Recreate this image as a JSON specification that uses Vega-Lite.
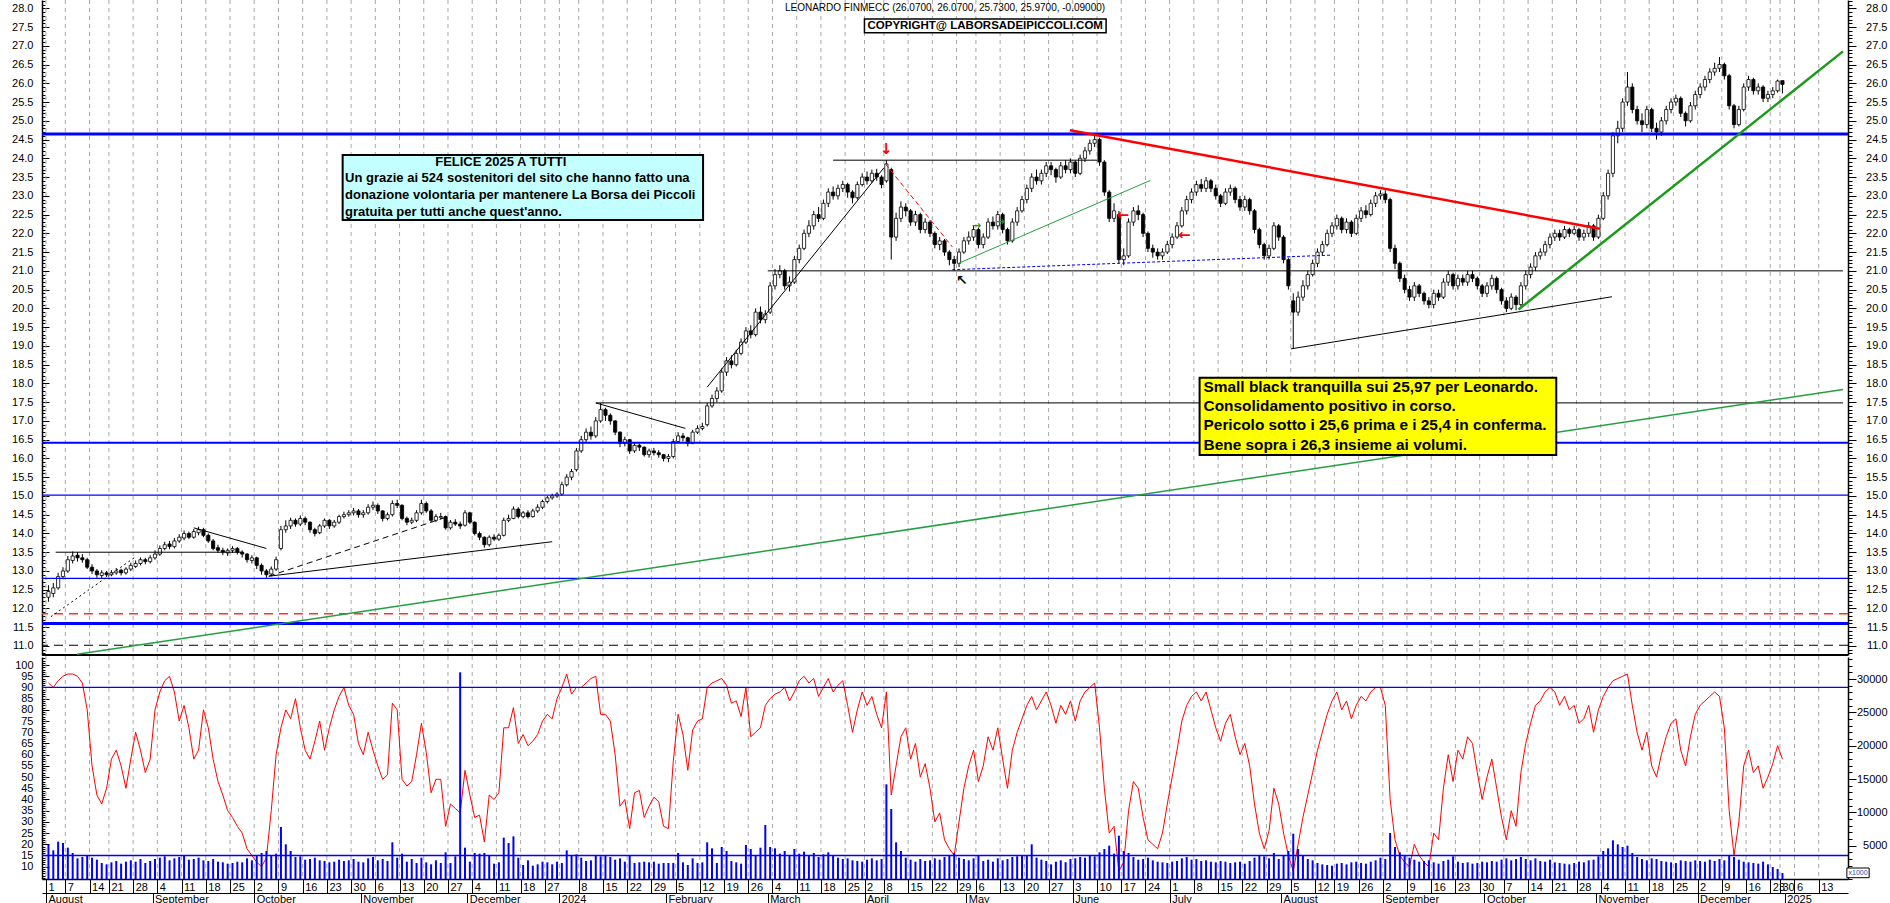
{
"$schema": "https://vega.github.io/schema/vega-lite/v6.json",
"width": 1806, "height": 879,
"autosize": {"type": "none"},
"padding": {"left": 42, "top": 0, "right": 42, "bottom": 24},
"background": "white",
"config": {"view": {"stroke": null}, "axis": {"labelFont": "Liberation Sans", "labelFontSize": 11, "labelColor": "#000", "tickColor": "#000", "domainColor": "#000", "grid": false, "labelOverlap": false, "labelFlush": false, "labelBound": false}, "text": {"font": "Liberation Sans"}},
"datasets": {"px": [
{"i":0,"o":12.30,"h":12.62,"l":12.18,"c":12.45,"k":92,"v":5200},
{"i":1,"o":12.40,"h":12.68,"l":12.30,"c":12.55,"k":90,"v":4300},
{"i":2,"o":12.55,"h":12.95,"l":12.50,"c":12.85,"k":93,"v":5600},
{"i":3,"o":12.85,"h":13.10,"l":12.78,"c":13.00,"k":95,"v":5400},
{"i":4,"o":13.00,"h":13.40,"l":12.95,"c":13.30,"k":96,"v":4700},
{"i":5,"o":13.28,"h":13.52,"l":13.20,"c":13.40,"k":96,"v":3900},
{"i":6,"o":13.42,"h":13.50,"l":13.25,"c":13.35,"k":95,"v":3100},
{"i":7,"o":13.35,"h":13.45,"l":13.22,"c":13.30,"k":92,"v":3300},
{"i":8,"o":13.30,"h":13.35,"l":13.05,"c":13.10,"k":80,"v":3600},
{"i":9,"o":13.10,"h":13.18,"l":12.92,"c":13.00,"k":55,"v":3200},
{"i":10,"o":13.00,"h":13.05,"l":12.82,"c":12.90,"k":42,"v":2900},
{"i":11,"o":12.88,"h":13.02,"l":12.80,"c":12.95,"k":38,"v":2400},
{"i":12,"o":12.95,"h":13.00,"l":12.84,"c":12.90,"k":45,"v":2200},
{"i":13,"o":12.90,"h":13.02,"l":12.86,"c":12.95,"k":58,"v":2500},
{"i":14,"o":12.95,"h":13.08,"l":12.90,"c":13.00,"k":62,"v":2700},
{"i":15,"o":13.02,"h":13.06,"l":12.88,"c":12.95,"k":55,"v":2300},
{"i":16,"o":12.95,"h":13.10,"l":12.90,"c":13.05,"k":45,"v":2600},
{"i":17,"o":13.05,"h":13.22,"l":13.00,"c":13.15,"k":58,"v":2800},
{"i":18,"o":13.12,"h":13.28,"l":13.08,"c":13.20,"k":70,"v":2600},
{"i":19,"o":13.20,"h":13.36,"l":13.15,"c":13.30,"k":62,"v":3000},
{"i":20,"o":13.30,"h":13.35,"l":13.18,"c":13.25,"k":52,"v":2400},
{"i":21,"o":13.25,"h":13.42,"l":13.20,"c":13.35,"k":58,"v":2700},
{"i":22,"o":13.35,"h":13.55,"l":13.30,"c":13.45,"k":80,"v":3000},
{"i":23,"o":13.45,"h":13.68,"l":13.40,"c":13.60,"k":88,"v":3200},
{"i":24,"o":13.60,"h":13.78,"l":13.55,"c":13.70,"k":93,"v":3400},
{"i":25,"o":13.72,"h":13.80,"l":13.58,"c":13.65,"k":95,"v":2800},
{"i":26,"o":13.65,"h":13.88,"l":13.60,"c":13.80,"k":88,"v":3100},
{"i":27,"o":13.80,"h":13.98,"l":13.75,"c":13.90,"k":75,"v":3300},
{"i":28,"o":13.88,"h":14.08,"l":13.82,"c":14.00,"k":82,"v":3500},
{"i":29,"o":14.00,"h":14.05,"l":13.85,"c":13.90,"k":72,"v":2900},
{"i":30,"o":13.90,"h":14.12,"l":13.86,"c":14.05,"k":58,"v":3000},
{"i":31,"o":14.02,"h":14.18,"l":13.95,"c":14.10,"k":62,"v":3200},
{"i":32,"o":14.10,"h":14.15,"l":13.90,"c":13.95,"k":80,"v":2800},
{"i":33,"o":13.95,"h":14.00,"l":13.75,"c":13.80,"k":72,"v":2700},
{"i":34,"o":13.80,"h":13.85,"l":13.55,"c":13.60,"k":58,"v":3000},
{"i":35,"o":13.62,"h":13.70,"l":13.48,"c":13.55,"k":48,"v":2600},
{"i":36,"o":13.55,"h":13.62,"l":13.42,"c":13.50,"k":42,"v":2500},
{"i":37,"o":13.48,"h":13.60,"l":13.40,"c":13.55,"k":35,"v":2300},
{"i":38,"o":13.55,"h":13.66,"l":13.48,"c":13.60,"k":32,"v":2400},
{"i":39,"o":13.60,"h":13.64,"l":13.44,"c":13.50,"k":28,"v":2600},
{"i":40,"o":13.50,"h":13.55,"l":13.36,"c":13.45,"k":25,"v":2500},
{"i":41,"o":13.45,"h":13.48,"l":13.22,"c":13.30,"k":18,"v":3100},
{"i":42,"o":13.28,"h":13.42,"l":13.20,"c":13.35,"k":15,"v":2800},
{"i":43,"o":13.35,"h":13.38,"l":13.05,"c":13.15,"k":12,"v":3600},
{"i":44,"o":13.15,"h":13.20,"l":12.90,"c":13.00,"k":10,"v":3900},
{"i":45,"o":13.00,"h":13.05,"l":12.82,"c":12.90,"k":14,"v":4200},
{"i":46,"o":12.92,"h":13.12,"l":12.86,"c":13.05,"k":35,"v":3500},
{"i":47,"o":13.05,"h":13.38,"l":13.00,"c":13.30,"k":60,"v":3800},
{"i":48,"o":13.60,"h":14.20,"l":13.55,"c":14.10,"k":72,"v":7800},
{"i":49,"o":14.10,"h":14.35,"l":14.02,"c":14.20,"k":80,"v":5200},
{"i":50,"o":14.20,"h":14.42,"l":14.12,"c":14.35,"k":76,"v":4200},
{"i":51,"o":14.35,"h":14.40,"l":14.18,"c":14.25,"k":85,"v":3300},
{"i":52,"o":14.25,"h":14.48,"l":14.20,"c":14.40,"k":72,"v":3400},
{"i":53,"o":14.40,"h":14.45,"l":14.22,"c":14.30,"k":62,"v":2900},
{"i":54,"o":14.30,"h":14.32,"l":14.02,"c":14.10,"k":58,"v":3000},
{"i":55,"o":14.10,"h":14.15,"l":13.92,"c":14.00,"k":66,"v":3200},
{"i":56,"o":14.02,"h":14.25,"l":13.98,"c":14.20,"k":75,"v":2800},
{"i":57,"o":14.20,"h":14.40,"l":14.15,"c":14.35,"k":62,"v":2700},
{"i":58,"o":14.35,"h":14.38,"l":14.12,"c":14.20,"k":72,"v":2500},
{"i":59,"o":14.20,"h":14.36,"l":14.15,"c":14.30,"k":80,"v":2600},
{"i":60,"o":14.30,"h":14.50,"l":14.25,"c":14.45,"k":86,"v":2900},
{"i":61,"o":14.45,"h":14.58,"l":14.40,"c":14.50,"k":90,"v":2700},
{"i":62,"o":14.50,"h":14.62,"l":14.45,"c":14.55,"k":82,"v":2800},
{"i":63,"o":14.55,"h":14.68,"l":14.48,"c":14.60,"k":78,"v":3000},
{"i":64,"o":14.60,"h":14.65,"l":14.42,"c":14.50,"k":65,"v":2600},
{"i":65,"o":14.50,"h":14.62,"l":14.42,"c":14.55,"k":60,"v":2500},
{"i":66,"o":14.55,"h":14.78,"l":14.50,"c":14.70,"k":70,"v":3100},
{"i":67,"o":14.70,"h":14.85,"l":14.62,"c":14.75,"k":62,"v":3300},
{"i":68,"o":14.75,"h":14.80,"l":14.52,"c":14.60,"k":55,"v":2800},
{"i":69,"o":14.60,"h":14.62,"l":14.32,"c":14.40,"k":49,"v":3000},
{"i":70,"o":14.40,"h":14.56,"l":14.35,"c":14.50,"k":51,"v":2700},
{"i":71,"o":14.50,"h":14.88,"l":14.45,"c":14.80,"k":83,"v":5500},
{"i":72,"o":14.80,"h":14.90,"l":14.68,"c":14.75,"k":80,"v":3200},
{"i":73,"o":14.75,"h":14.78,"l":14.35,"c":14.40,"k":49,"v":3800},
{"i":74,"o":14.40,"h":14.45,"l":14.22,"c":14.30,"k":46,"v":2600},
{"i":75,"o":14.30,"h":14.42,"l":14.25,"c":14.35,"k":48,"v":3000},
{"i":76,"o":14.35,"h":14.62,"l":14.30,"c":14.55,"k":60,"v":2400},
{"i":77,"o":14.55,"h":14.90,"l":14.50,"c":14.80,"k":74,"v":3200},
{"i":78,"o":14.80,"h":14.85,"l":14.55,"c":14.60,"k":61,"v":2500},
{"i":79,"o":14.60,"h":14.65,"l":14.30,"c":14.35,"k":43,"v":2200},
{"i":80,"o":14.35,"h":14.52,"l":14.30,"c":14.45,"k":49,"v":2800},
{"i":81,"o":14.42,"h":14.55,"l":14.38,"c":14.45,"k":49,"v":2400},
{"i":82,"o":14.45,"h":14.48,"l":14.10,"c":14.15,"k":28,"v":4000},
{"i":83,"o":14.15,"h":14.36,"l":14.10,"c":14.30,"k":38,"v":2400},
{"i":84,"o":14.30,"h":14.38,"l":14.20,"c":14.25,"k":36,"v":3400},
{"i":85,"o":14.25,"h":14.32,"l":14.12,"c":14.20,"k":34,"v":31000},
{"i":86,"o":14.22,"h":14.62,"l":14.18,"c":14.55,"k":53,"v":4700},
{"i":87,"o":14.55,"h":14.58,"l":14.25,"c":14.30,"k":42,"v":2600},
{"i":88,"o":14.30,"h":14.32,"l":13.95,"c":14.00,"k":32,"v":3900},
{"i":89,"o":14.00,"h":14.05,"l":13.82,"c":13.90,"k":33,"v":3800},
{"i":90,"o":13.90,"h":13.92,"l":13.62,"c":13.70,"k":21,"v":3900},
{"i":91,"o":13.70,"h":13.95,"l":13.65,"c":13.90,"k":42,"v":3500},
{"i":92,"o":13.90,"h":13.98,"l":13.80,"c":13.85,"k":40,"v":2300},
{"i":93,"o":13.85,"h":14.00,"l":13.80,"c":13.95,"k":43,"v":2500},
{"i":94,"o":13.95,"h":14.42,"l":13.92,"c":14.35,"k":72,"v":6200},
{"i":95,"o":14.35,"h":14.50,"l":14.30,"c":14.40,"k":72,"v":5400},
{"i":96,"o":14.40,"h":14.72,"l":14.38,"c":14.65,"k":81,"v":6400},
{"i":97,"o":14.65,"h":14.70,"l":14.40,"c":14.45,"k":65,"v":3200},
{"i":98,"o":14.45,"h":14.60,"l":14.40,"c":14.55,"k":69,"v":2100},
{"i":99,"o":14.55,"h":14.62,"l":14.40,"c":14.45,"k":64,"v":2800},
{"i":100,"o":14.45,"h":14.66,"l":14.42,"c":14.60,"k":66,"v":2000},
{"i":101,"o":14.60,"h":14.78,"l":14.55,"c":14.70,"k":69,"v":2200},
{"i":102,"o":14.70,"h":14.90,"l":14.65,"c":14.85,"k":75,"v":2600},
{"i":103,"o":14.85,"h":15.00,"l":14.80,"c":14.95,"k":78,"v":2500},
{"i":104,"o":14.95,"h":15.06,"l":14.90,"c":15.00,"k":76,"v":2200},
{"i":105,"o":15.00,"h":15.10,"l":14.95,"c":15.05,"k":85,"v":2600},
{"i":106,"o":15.05,"h":15.38,"l":15.00,"c":15.30,"k":90,"v":2400},
{"i":107,"o":15.30,"h":15.58,"l":15.25,"c":15.50,"k":96,"v":4300},
{"i":108,"o":15.50,"h":15.72,"l":15.42,"c":15.65,"k":87,"v":3500},
{"i":109,"o":15.70,"h":16.28,"l":15.65,"c":16.20,"k":90,"v":3700},
{"i":110,"o":16.20,"h":16.60,"l":16.15,"c":16.50,"k":90,"v":3200},
{"i":111,"o":16.50,"h":16.80,"l":16.40,"c":16.70,"k":92,"v":2700},
{"i":112,"o":16.70,"h":16.85,"l":16.50,"c":16.60,"k":94,"v":2800},
{"i":113,"o":16.60,"h":17.10,"l":16.55,"c":17.00,"k":95,"v":3500},
{"i":114,"o":17.00,"h":17.48,"l":16.95,"c":17.30,"k":78,"v":3400},
{"i":115,"o":17.30,"h":17.35,"l":17.00,"c":17.15,"k":78,"v":3600},
{"i":116,"o":17.15,"h":17.20,"l":16.90,"c":17.00,"k":75,"v":3300},
{"i":117,"o":17.00,"h":17.02,"l":16.62,"c":16.70,"k":60,"v":2900},
{"i":118,"o":16.70,"h":16.72,"l":16.30,"c":16.40,"k":37,"v":3100},
{"i":119,"o":16.40,"h":16.58,"l":16.32,"c":16.50,"k":40,"v":2600},
{"i":120,"o":16.50,"h":16.52,"l":16.12,"c":16.20,"k":27,"v":3600},
{"i":121,"o":16.20,"h":16.42,"l":16.15,"c":16.35,"k":43,"v":2400},
{"i":122,"o":16.35,"h":16.40,"l":16.20,"c":16.30,"k":44,"v":2500},
{"i":123,"o":16.30,"h":16.32,"l":16.05,"c":16.10,"k":32,"v":2600},
{"i":124,"o":16.10,"h":16.26,"l":16.02,"c":16.20,"k":37,"v":2500},
{"i":125,"o":16.20,"h":16.28,"l":16.08,"c":16.15,"k":41,"v":2600},
{"i":126,"o":16.15,"h":16.22,"l":16.02,"c":16.10,"k":39,"v":2300},
{"i":127,"o":16.10,"h":16.12,"l":15.92,"c":16.00,"k":28,"v":2400},
{"i":128,"o":16.00,"h":16.12,"l":15.90,"c":16.05,"k":27,"v":2400},
{"i":129,"o":16.05,"h":16.52,"l":16.00,"c":16.45,"k":57,"v":2400},
{"i":130,"o":16.45,"h":16.70,"l":16.40,"c":16.60,"k":78,"v":3900},
{"i":131,"o":16.60,"h":16.68,"l":16.45,"c":16.55,"k":69,"v":2500},
{"i":132,"o":16.55,"h":16.58,"l":16.32,"c":16.40,"k":53,"v":2100},
{"i":133,"o":16.40,"h":16.76,"l":16.38,"c":16.70,"k":71,"v":3100},
{"i":134,"o":16.70,"h":16.88,"l":16.65,"c":16.80,"k":75,"v":2400},
{"i":135,"o":16.80,"h":16.95,"l":16.75,"c":16.85,"k":76,"v":2500},
{"i":136,"o":16.90,"h":17.48,"l":16.85,"c":17.40,"k":90,"v":5500},
{"i":137,"o":17.40,"h":17.70,"l":17.35,"c":17.60,"k":92,"v":4600},
{"i":138,"o":17.60,"h":17.90,"l":17.50,"c":17.80,"k":93,"v":2400},
{"i":139,"o":17.80,"h":18.40,"l":17.75,"c":18.30,"k":94,"v":4800},
{"i":140,"o":18.30,"h":18.70,"l":18.20,"c":18.60,"k":91,"v":4200},
{"i":141,"o":18.60,"h":18.75,"l":18.40,"c":18.50,"k":83,"v":2700},
{"i":142,"o":18.50,"h":18.90,"l":18.45,"c":18.80,"k":84,"v":2500},
{"i":143,"o":18.80,"h":19.20,"l":18.75,"c":19.10,"k":77,"v":2300},
{"i":144,"o":19.10,"h":19.50,"l":19.05,"c":19.40,"k":90,"v":5100},
{"i":145,"o":19.40,"h":19.55,"l":19.20,"c":19.30,"k":68,"v":4500},
{"i":146,"o":19.30,"h":20.00,"l":19.25,"c":19.90,"k":70,"v":3500},
{"i":147,"o":19.90,"h":20.05,"l":19.60,"c":19.70,"k":72,"v":4700},
{"i":148,"o":19.70,"h":19.95,"l":19.60,"c":19.85,"k":82,"v":8100},
{"i":149,"o":19.90,"h":20.70,"l":19.85,"c":20.60,"k":85,"v":4800},
{"i":150,"o":20.60,"h":21.05,"l":20.50,"c":20.90,"k":87,"v":4600},
{"i":151,"o":20.90,"h":21.15,"l":20.80,"c":21.00,"k":88,"v":3800},
{"i":152,"o":21.00,"h":21.05,"l":20.50,"c":20.60,"k":90,"v":4200},
{"i":153,"o":20.60,"h":20.85,"l":20.45,"c":20.70,"k":84,"v":3500},
{"i":154,"o":20.70,"h":21.40,"l":20.65,"c":21.30,"k":88,"v":4500},
{"i":155,"o":21.30,"h":21.70,"l":21.20,"c":21.60,"k":93,"v":3800},
{"i":156,"o":21.60,"h":22.10,"l":21.55,"c":22.00,"k":95,"v":4100},
{"i":157,"o":22.00,"h":22.35,"l":21.90,"c":22.20,"k":92,"v":3600},
{"i":158,"o":22.20,"h":22.60,"l":22.10,"c":22.50,"k":94,"v":3900},
{"i":159,"o":22.50,"h":22.70,"l":22.30,"c":22.40,"k":86,"v":3300},
{"i":160,"o":22.40,"h":22.90,"l":22.35,"c":22.80,"k":90,"v":3700},
{"i":161,"o":22.80,"h":23.20,"l":22.70,"c":23.10,"k":94,"v":4000},
{"i":162,"o":23.10,"h":23.25,"l":22.90,"c":23.00,"k":88,"v":3500},
{"i":163,"o":23.00,"h":23.30,"l":22.90,"c":23.20,"k":91,"v":3200},
{"i":164,"o":23.20,"h":23.40,"l":23.10,"c":23.30,"k":93,"v":3000},
{"i":165,"o":23.30,"h":23.35,"l":22.95,"c":23.10,"k":82,"v":3100},
{"i":166,"o":23.10,"h":23.15,"l":22.80,"c":22.95,"k":70,"v":2800},
{"i":167,"o":22.95,"h":23.38,"l":22.90,"c":23.30,"k":80,"v":2700},
{"i":168,"o":23.30,"h":23.60,"l":23.25,"c":23.50,"k":88,"v":2600},
{"i":169,"o":23.50,"h":23.65,"l":23.30,"c":23.40,"k":82,"v":2900},
{"i":170,"o":23.40,"h":23.70,"l":23.35,"c":23.60,"k":86,"v":3100},
{"i":171,"o":23.60,"h":23.72,"l":23.40,"c":23.50,"k":78,"v":2800},
{"i":172,"o":23.50,"h":23.55,"l":23.20,"c":23.30,"k":72,"v":3000},
{"i":173,"o":23.40,"h":23.95,"l":23.35,"c":23.85,"k":88,"v":14200},
{"i":174,"o":23.70,"h":23.75,"l":21.30,"c":21.90,"k":42,"v":10500},
{"i":175,"o":21.90,"h":22.55,"l":21.80,"c":22.40,"k":55,"v":5500},
{"i":176,"o":22.40,"h":22.85,"l":22.30,"c":22.70,"k":68,"v":4200},
{"i":177,"o":22.70,"h":22.80,"l":22.45,"c":22.60,"k":72,"v":3200},
{"i":178,"o":22.60,"h":22.65,"l":22.20,"c":22.30,"k":58,"v":2900},
{"i":179,"o":22.30,"h":22.60,"l":22.20,"c":22.50,"k":65,"v":2600},
{"i":180,"o":22.50,"h":22.55,"l":22.00,"c":22.10,"k":50,"v":3000},
{"i":181,"o":22.10,"h":22.40,"l":22.00,"c":22.30,"k":56,"v":2700},
{"i":182,"o":22.30,"h":22.35,"l":21.90,"c":22.00,"k":45,"v":2800},
{"i":183,"o":22.00,"h":22.05,"l":21.60,"c":21.70,"k":30,"v":3100},
{"i":184,"o":21.70,"h":21.90,"l":21.55,"c":21.80,"k":34,"v":2900},
{"i":185,"o":21.80,"h":21.85,"l":21.40,"c":21.50,"k":22,"v":3300},
{"i":186,"o":21.50,"h":21.55,"l":21.15,"c":21.30,"k":18,"v":3500},
{"i":187,"o":21.30,"h":21.40,"l":21.00,"c":21.20,"k":15,"v":3900},
{"i":188,"o":21.20,"h":21.60,"l":21.10,"c":21.50,"k":30,"v":3200},
{"i":189,"o":21.50,"h":21.90,"l":21.45,"c":21.80,"k":45,"v":3000},
{"i":190,"o":21.80,"h":22.05,"l":21.70,"c":21.90,"k":55,"v":2800},
{"i":191,"o":21.90,"h":22.20,"l":21.80,"c":22.10,"k":62,"v":3100},
{"i":192,"o":22.10,"h":22.15,"l":21.60,"c":21.70,"k":48,"v":3600},
{"i":193,"o":21.70,"h":22.00,"l":21.60,"c":21.90,"k":55,"v":2700},
{"i":194,"o":21.90,"h":22.40,"l":21.85,"c":22.30,"k":68,"v":2900},
{"i":195,"o":22.30,"h":22.45,"l":22.10,"c":22.20,"k":62,"v":2600},
{"i":196,"o":22.20,"h":22.60,"l":22.10,"c":22.50,"k":72,"v":3100},
{"i":197,"o":22.50,"h":22.55,"l":22.00,"c":22.10,"k":58,"v":2800},
{"i":198,"o":22.10,"h":22.15,"l":21.70,"c":21.80,"k":45,"v":3000},
{"i":199,"o":21.80,"h":22.40,"l":21.75,"c":22.30,"k":62,"v":3300},
{"i":200,"o":22.30,"h":22.70,"l":22.20,"c":22.60,"k":70,"v":3400},
{"i":201,"o":22.60,"h":23.00,"l":22.55,"c":22.90,"k":76,"v":3500},
{"i":202,"o":22.90,"h":23.30,"l":22.80,"c":23.20,"k":82,"v":3600},
{"i":203,"o":23.20,"h":23.60,"l":23.10,"c":23.50,"k":86,"v":5200},
{"i":204,"o":23.50,"h":23.70,"l":23.30,"c":23.40,"k":80,"v":3200},
{"i":205,"o":23.40,"h":23.70,"l":23.30,"c":23.60,"k":84,"v":2900},
{"i":206,"o":23.60,"h":23.90,"l":23.50,"c":23.80,"k":88,"v":2700},
{"i":207,"o":23.80,"h":23.90,"l":23.55,"c":23.70,"k":82,"v":2200},
{"i":208,"o":23.70,"h":23.75,"l":23.35,"c":23.50,"k":74,"v":2600},
{"i":209,"o":23.50,"h":23.90,"l":23.45,"c":23.80,"k":82,"v":2800},
{"i":210,"o":23.80,"h":23.95,"l":23.60,"c":23.70,"k":78,"v":2500},
{"i":211,"o":23.70,"h":24.00,"l":23.60,"c":23.90,"k":84,"v":3000},
{"i":212,"o":23.90,"h":23.95,"l":23.50,"c":23.60,"k":75,"v":3100},
{"i":213,"o":23.60,"h":24.10,"l":23.55,"c":24.00,"k":84,"v":3300},
{"i":214,"o":24.00,"h":24.30,"l":23.90,"c":24.20,"k":88,"v":3200},
{"i":215,"o":24.20,"h":24.50,"l":24.10,"c":24.40,"k":90,"v":3500},
{"i":216,"o":24.40,"h":24.62,"l":24.30,"c":24.50,"k":92,"v":3400},
{"i":217,"o":24.50,"h":24.55,"l":23.80,"c":23.90,"k":72,"v":4000},
{"i":218,"o":23.90,"h":23.95,"l":23.00,"c":23.10,"k":45,"v":4500},
{"i":219,"o":23.10,"h":23.15,"l":22.30,"c":22.40,"k":25,"v":5000},
{"i":220,"o":22.40,"h":22.80,"l":22.30,"c":22.60,"k":28,"v":3800},
{"i":221,"o":22.50,"h":22.60,"l":21.20,"c":21.30,"k":8,"v":6500},
{"i":222,"o":21.30,"h":21.60,"l":21.15,"c":21.40,"k":12,"v":4200},
{"i":223,"o":21.40,"h":22.40,"l":21.35,"c":22.30,"k":35,"v":3900},
{"i":224,"o":22.30,"h":22.70,"l":22.20,"c":22.60,"k":48,"v":3300},
{"i":225,"o":22.60,"h":22.75,"l":22.35,"c":22.50,"k":45,"v":2900},
{"i":226,"o":22.50,"h":22.55,"l":21.90,"c":22.00,"k":32,"v":3000},
{"i":227,"o":22.00,"h":22.05,"l":21.50,"c":21.60,"k":22,"v":3200},
{"i":228,"o":21.60,"h":21.70,"l":21.35,"c":21.50,"k":20,"v":2800},
{"i":229,"o":21.50,"h":21.60,"l":21.30,"c":21.40,"k":18,"v":2600},
{"i":230,"o":21.40,"h":21.60,"l":21.30,"c":21.50,"k":25,"v":2500},
{"i":231,"o":21.50,"h":21.80,"l":21.45,"c":21.70,"k":38,"v":2400},
{"i":232,"o":21.70,"h":22.00,"l":21.60,"c":21.90,"k":50,"v":2600},
{"i":233,"o":21.90,"h":22.30,"l":21.85,"c":22.20,"k":62,"v":2700},
{"i":234,"o":22.20,"h":22.70,"l":22.15,"c":22.60,"k":75,"v":3100},
{"i":235,"o":22.60,"h":23.00,"l":22.50,"c":22.90,"k":82,"v":3300},
{"i":236,"o":22.90,"h":23.20,"l":22.80,"c":23.10,"k":86,"v":2900},
{"i":237,"o":23.10,"h":23.40,"l":23.00,"c":23.30,"k":88,"v":3000},
{"i":238,"o":23.30,"h":23.45,"l":23.10,"c":23.20,"k":84,"v":2700},
{"i":239,"o":23.20,"h":23.50,"l":23.10,"c":23.40,"k":88,"v":2800},
{"i":240,"o":23.40,"h":23.45,"l":23.10,"c":23.20,"k":80,"v":2600},
{"i":241,"o":23.20,"h":23.30,"l":22.90,"c":23.00,"k":72,"v":2500},
{"i":242,"o":23.00,"h":23.05,"l":22.70,"c":22.80,"k":66,"v":2700},
{"i":243,"o":22.80,"h":23.20,"l":22.75,"c":23.10,"k":74,"v":2600},
{"i":244,"o":23.10,"h":23.30,"l":23.00,"c":23.20,"k":78,"v":2400},
{"i":245,"o":23.20,"h":23.25,"l":22.80,"c":22.90,"k":68,"v":2500},
{"i":246,"o":22.90,"h":23.00,"l":22.60,"c":22.70,"k":60,"v":2600},
{"i":247,"o":22.70,"h":23.00,"l":22.60,"c":22.90,"k":65,"v":2300},
{"i":248,"o":22.90,"h":22.95,"l":22.50,"c":22.60,"k":55,"v":2700},
{"i":249,"o":22.60,"h":22.65,"l":22.00,"c":22.10,"k":38,"v":3200},
{"i":250,"o":22.10,"h":22.15,"l":21.60,"c":21.70,"k":25,"v":3600},
{"i":251,"o":21.70,"h":21.75,"l":21.30,"c":21.40,"k":18,"v":3400},
{"i":252,"o":21.40,"h":21.70,"l":21.30,"c":21.60,"k":26,"v":3100},
{"i":253,"o":21.60,"h":22.30,"l":21.55,"c":22.20,"k":45,"v":3900},
{"i":254,"o":22.20,"h":22.25,"l":21.80,"c":21.90,"k":38,"v":3000},
{"i":255,"o":21.90,"h":21.95,"l":21.20,"c":21.30,"k":25,"v":3500},
{"i":256,"o":21.30,"h":21.35,"l":20.50,"c":20.60,"k":15,"v":4200},
{"i":257,"o":20.20,"h":20.40,"l":18.94,"c":19.90,"k":8,"v":6800},
{"i":258,"o":19.90,"h":20.45,"l":19.80,"c":20.30,"k":20,"v":4500},
{"i":259,"o":20.30,"h":20.75,"l":20.20,"c":20.60,"k":32,"v":3500},
{"i":260,"o":20.60,"h":21.00,"l":20.50,"c":20.90,"k":42,"v":3000},
{"i":261,"o":20.90,"h":21.30,"l":20.85,"c":21.20,"k":52,"v":2800},
{"i":262,"o":21.20,"h":21.60,"l":21.10,"c":21.50,"k":62,"v":2400},
{"i":263,"o":21.50,"h":21.80,"l":21.40,"c":21.70,"k":70,"v":2200},
{"i":264,"o":21.70,"h":22.10,"l":21.65,"c":22.00,"k":78,"v":2100},
{"i":265,"o":22.00,"h":22.30,"l":21.90,"c":22.20,"k":84,"v":2000},
{"i":266,"o":22.20,"h":22.50,"l":22.10,"c":22.40,"k":88,"v":2300},
{"i":267,"o":22.40,"h":22.45,"l":22.00,"c":22.10,"k":80,"v":2400},
{"i":268,"o":22.10,"h":22.40,"l":22.00,"c":22.30,"k":84,"v":2200},
{"i":269,"o":22.30,"h":22.35,"l":21.90,"c":22.00,"k":76,"v":2500},
{"i":270,"o":22.00,"h":22.50,"l":21.95,"c":22.40,"k":82,"v":2600},
{"i":271,"o":22.40,"h":22.70,"l":22.30,"c":22.60,"k":86,"v":2400},
{"i":272,"o":22.60,"h":22.75,"l":22.40,"c":22.50,"k":84,"v":2300},
{"i":273,"o":22.50,"h":22.90,"l":22.45,"c":22.80,"k":88,"v":2600},
{"i":274,"o":22.80,"h":23.10,"l":22.70,"c":23.00,"k":90,"v":2800},
{"i":275,"o":23.00,"h":23.15,"l":22.90,"c":23.05,"k":90,"v":3200},
{"i":276,"o":23.05,"h":23.15,"l":22.80,"c":22.90,"k":82,"v":3000},
{"i":277,"o":22.90,"h":22.95,"l":21.50,"c":21.60,"k":40,"v":6900},
{"i":278,"o":21.60,"h":21.70,"l":21.05,"c":21.20,"k":22,"v":4800},
{"i":279,"o":21.20,"h":21.25,"l":20.70,"c":20.80,"k":15,"v":4000},
{"i":280,"o":20.80,"h":20.90,"l":20.40,"c":20.50,"k":12,"v":3500},
{"i":281,"o":20.50,"h":20.60,"l":20.20,"c":20.30,"k":10,"v":3200},
{"i":282,"o":20.30,"h":20.70,"l":20.20,"c":20.60,"k":20,"v":2900},
{"i":283,"o":20.60,"h":20.65,"l":20.30,"c":20.40,"k":15,"v":2600},
{"i":284,"o":20.40,"h":20.45,"l":20.10,"c":20.20,"k":12,"v":2700},
{"i":285,"o":20.20,"h":20.30,"l":20.00,"c":20.10,"k":10,"v":2800},
{"i":286,"o":20.10,"h":20.50,"l":20.00,"c":20.40,"k":25,"v":2500},
{"i":287,"o":20.40,"h":20.50,"l":20.20,"c":20.30,"k":22,"v":2300},
{"i":288,"o":20.30,"h":20.80,"l":20.25,"c":20.70,"k":45,"v":2700},
{"i":289,"o":20.70,"h":21.00,"l":20.60,"c":20.90,"k":60,"v":2900},
{"i":290,"o":20.90,"h":20.95,"l":20.50,"c":20.60,"k":48,"v":3400},
{"i":291,"o":20.60,"h":20.90,"l":20.50,"c":20.80,"k":62,"v":2600},
{"i":292,"o":20.80,"h":20.90,"l":20.60,"c":20.70,"k":58,"v":2400},
{"i":293,"o":20.70,"h":21.00,"l":20.60,"c":20.90,"k":68,"v":2500},
{"i":294,"o":20.90,"h":21.00,"l":20.70,"c":20.80,"k":65,"v":2300},
{"i":295,"o":20.80,"h":20.85,"l":20.50,"c":20.60,"k":52,"v":2400},
{"i":296,"o":20.60,"h":20.65,"l":20.30,"c":20.40,"k":40,"v":2600},
{"i":297,"o":20.40,"h":20.70,"l":20.30,"c":20.60,"k":50,"v":2500},
{"i":298,"o":20.60,"h":20.90,"l":20.50,"c":20.80,"k":58,"v":2700},
{"i":299,"o":20.80,"h":20.85,"l":20.40,"c":20.50,"k":45,"v":2600},
{"i":300,"o":20.50,"h":20.55,"l":20.10,"c":20.20,"k":32,"v":2900},
{"i":301,"o":20.20,"h":20.30,"l":19.90,"c":20.00,"k":22,"v":3100},
{"i":302,"o":20.00,"h":20.40,"l":19.95,"c":20.30,"k":35,"v":2800},
{"i":303,"o":20.30,"h":20.35,"l":19.95,"c":20.10,"k":28,"v":3000},
{"i":304,"o":20.10,"h":20.70,"l":20.05,"c":20.60,"k":52,"v":3300},
{"i":305,"o":20.60,"h":21.00,"l":20.50,"c":20.90,"k":65,"v":3000},
{"i":306,"o":20.90,"h":21.20,"l":20.80,"c":21.10,"k":74,"v":2800},
{"i":307,"o":21.10,"h":21.50,"l":21.00,"c":21.40,"k":82,"v":3100},
{"i":308,"o":21.40,"h":21.60,"l":21.30,"c":21.50,"k":84,"v":2700},
{"i":309,"o":21.50,"h":21.80,"l":21.40,"c":21.70,"k":88,"v":2600},
{"i":310,"o":21.70,"h":22.00,"l":21.60,"c":21.90,"k":90,"v":2900},
{"i":311,"o":21.90,"h":22.10,"l":21.80,"c":22.00,"k":88,"v":2500},
{"i":312,"o":22.00,"h":22.10,"l":21.80,"c":21.90,"k":82,"v":2400},
{"i":313,"o":21.90,"h":22.20,"l":21.85,"c":22.10,"k":86,"v":2300},
{"i":314,"o":22.10,"h":22.15,"l":21.90,"c":22.00,"k":80,"v":2200},
{"i":315,"o":22.00,"h":22.20,"l":21.95,"c":22.10,"k":82,"v":2400},
{"i":316,"o":22.10,"h":22.15,"l":21.80,"c":21.90,"k":74,"v":2600},
{"i":317,"o":21.90,"h":22.10,"l":21.80,"c":22.00,"k":76,"v":2500},
{"i":318,"o":22.00,"h":22.30,"l":21.90,"c":22.20,"k":82,"v":2800},
{"i":319,"o":22.20,"h":22.25,"l":21.80,"c":21.90,"k":70,"v":2900},
{"i":320,"o":21.90,"h":22.50,"l":21.85,"c":22.40,"k":80,"v":3400},
{"i":321,"o":22.40,"h":23.10,"l":22.35,"c":23.00,"k":86,"v":4200},
{"i":322,"o":23.00,"h":23.70,"l":22.90,"c":23.60,"k":90,"v":4600},
{"i":323,"o":23.60,"h":24.70,"l":23.50,"c":24.60,"k":93,"v":5800},
{"i":324,"o":24.60,"h":25.00,"l":24.40,"c":24.80,"k":94,"v":5200},
{"i":325,"o":24.80,"h":25.60,"l":24.70,"c":25.50,"k":95,"v":4800},
{"i":326,"o":25.50,"h":26.30,"l":25.40,"c":25.90,"k":96,"v":5000},
{"i":327,"o":25.90,"h":26.00,"l":25.20,"c":25.30,"k":82,"v":3900},
{"i":328,"o":25.30,"h":25.40,"l":24.90,"c":25.00,"k":70,"v":3300},
{"i":329,"o":25.00,"h":25.20,"l":24.70,"c":24.90,"k":62,"v":3000},
{"i":330,"o":24.90,"h":25.40,"l":24.80,"c":25.30,"k":70,"v":2800},
{"i":331,"o":25.30,"h":25.35,"l":24.70,"c":24.80,"k":55,"v":3100},
{"i":332,"o":24.80,"h":24.95,"l":24.50,"c":24.70,"k":50,"v":3000},
{"i":333,"o":24.70,"h":25.10,"l":24.60,"c":25.00,"k":60,"v":2700},
{"i":334,"o":25.00,"h":25.40,"l":24.90,"c":25.30,"k":68,"v":2600},
{"i":335,"o":25.30,"h":25.60,"l":25.20,"c":25.50,"k":74,"v":2500},
{"i":336,"o":25.50,"h":25.70,"l":25.40,"c":25.60,"k":76,"v":2400},
{"i":337,"o":25.60,"h":25.65,"l":25.10,"c":25.20,"k":62,"v":2800},
{"i":338,"o":25.20,"h":25.25,"l":24.85,"c":25.00,"k":55,"v":2700},
{"i":339,"o":25.00,"h":25.50,"l":24.95,"c":25.40,"k":68,"v":2600},
{"i":340,"o":25.40,"h":25.80,"l":25.30,"c":25.70,"k":78,"v":2800},
{"i":341,"o":25.70,"h":26.00,"l":25.60,"c":25.90,"k":82,"v":2700},
{"i":342,"o":25.90,"h":26.20,"l":25.80,"c":26.10,"k":84,"v":2600},
{"i":343,"o":26.10,"h":26.40,"l":26.00,"c":26.30,"k":86,"v":2900},
{"i":344,"o":26.30,"h":26.55,"l":26.20,"c":26.40,"k":88,"v":2700},
{"i":345,"o":26.40,"h":26.70,"l":26.30,"c":26.50,"k":86,"v":3000},
{"i":346,"o":26.50,"h":26.55,"l":26.10,"c":26.20,"k":72,"v":2800},
{"i":347,"o":26.20,"h":26.25,"l":25.30,"c":25.40,"k":35,"v":3500},
{"i":348,"o":25.40,"h":25.45,"l":24.80,"c":24.90,"k":15,"v":3300},
{"i":349,"o":24.90,"h":25.40,"l":24.85,"c":25.30,"k":30,"v":2900},
{"i":350,"o":25.30,"h":26.00,"l":25.25,"c":25.90,"k":55,"v":2600},
{"i":351,"o":25.90,"h":26.20,"l":25.80,"c":26.10,"k":62,"v":2500},
{"i":352,"o":26.10,"h":26.15,"l":25.70,"c":25.80,"k":52,"v":2400},
{"i":353,"o":25.80,"h":26.00,"l":25.70,"c":25.90,"k":55,"v":2300},
{"i":354,"o":25.90,"h":25.95,"l":25.50,"c":25.60,"k":45,"v":2600},
{"i":355,"o":25.60,"h":25.80,"l":25.50,"c":25.70,"k":50,"v":2200},
{"i":356,"o":25.70,"h":25.90,"l":25.60,"c":25.80,"k":56,"v":1800},
{"i":357,"o":25.80,"h":26.10,"l":25.75,"c":26.06,"k":64,"v":1500},
{"i":358,"o":26.07,"h":26.07,"l":25.73,"c":25.97,"k":58,"v":900}
],
"weeks": [{"i":0},{"i":4},{"i":9},{"i":13},{"i":18},{"i":23},{"i":28},{"i":33},{"i":38},{"i":43},{"i":48},{"i":53},{"i":58},{"i":63},{"i":68},{"i":73},{"i":78},{"i":83},{"i":88},{"i":93},{"i":98},{"i":103},{"i":106},{"i":110},{"i":115},{"i":120},{"i":125},{"i":130},{"i":135},{"i":140},{"i":145},{"i":150},{"i":155},{"i":160},{"i":165},{"i":169},{"i":173},{"i":178},{"i":183},{"i":188},{"i":192},{"i":197},{"i":202},{"i":207},{"i":212},{"i":217},{"i":222},{"i":227},{"i":232},{"i":237},{"i":242},{"i":247},{"i":252},{"i":257},{"i":262},{"i":266},{"i":271},{"i":276},{"i":281},{"i":286},{"i":291},{"i":296},{"i":301},{"i":306},{"i":311},{"i":316},{"i":321},{"i":326},{"i":331},{"i":336},{"i":341},{"i":346},{"i":351},{"i":356},{"i":358},{"i":361},{"i":366}]
},
"layer": [
{"data": {"name": "weeks"},
 "mark": {"type": "rule", "color": "#a8a8a8", "strokeWidth": 1, "strokeDash": [4, 4], "xOffset": -2.5},
 "encoding": {"x": {"field": "i", "type": "quantitative", "scale": {"domain": [-0.3, 370.5], "nice": false, "zero": false}, "axis": null}}},
{"data": {"name": "px"},
 "mark": {"type": "rule", "color": "#000", "strokeWidth": 1},
 "encoding": {
  "x": {"field": "i", "type": "quantitative", "scale": {"domain": [-0.3, 370.5], "nice": false, "zero": false}, "axis": null},
  "y": {"field": "l", "type": "quantitative", "scale": {"domain": [10.76, 28.22], "range": [655, 0], "nice": false, "zero": false},
        "axis": {"orient": "left", "title": null, "values": [11,11.5,12,12.5,13,13.5,14,14.5,15,15.5,16,16.5,17,17.5,18,18.5,19,19.5,20,20.5,21,21.5,22,22.5,23,23.5,24,24.5,25,25.5,26,26.5,27,27.5,28], "format": ".1f", "tickSize": -7, "labelPadding": 16, "domainWidth": 1.5}},
  "y2": {"field": "h"}}},
{"data": {"name": "px"},
 "mark": {"type": "bar", "size": 3.2, "stroke": "#000", "strokeWidth": 0.8},
 "encoding": {
  "x": {"field": "i", "type": "quantitative", "scale": {"domain": [-0.3, 370.5], "nice": false, "zero": false}, "axis": null},
  "y": {"field": "o", "type": "quantitative", "scale": {"domain": [10.76, 28.22], "range": [655, 0], "nice": false, "zero": false}, "axis": null},
  "y2": {"field": "c"},
  "fill": {"condition": {"test": "datum.c >= datum.o", "value": "#ffffff"}, "value": "#000000"}}},
{"data": {"values": [{"p": 24.65}, {"p": 11.6}]},
 "mark": {"type": "rule", "color": "#0000ff", "strokeWidth": 3},
 "encoding": {"y": {"field": "p", "type": "quantitative", "scale": {"domain": [10.76, 28.22], "range": [655, 0], "nice": false, "zero": false},
   "axis": {"orient": "right", "title": null, "values": [11,11.5,12,12.5,13,13.5,14,14.5,15,15.5,16,16.5,17,17.5,18,18.5,19,19.5,20,20.5,21,21.5,22,22.5,23,23.5,24,24.5,25,25.5,26,26.5,27,27.5,28], "format": ".1f", "tickSize": 8, "labelAlign": "right", "labelPadding": 31, "domainWidth": 1.5}}}},
{"data": {"values": [{"p": 16.42}]},
 "mark": {"type": "rule", "color": "#0000ff", "strokeWidth": 2},
 "encoding": {"y": {"field": "p", "type": "quantitative", "scale": {"domain": [10.76, 28.22], "range": [655, 0], "nice": false, "zero": false}, "axis": null}}},
{"data": {"values": [{"p": 15.02}, {"p": 12.8}]},
 "mark": {"type": "rule", "color": "#0000ff", "strokeWidth": 1.3},
 "encoding": {"y": {"field": "p", "type": "quantitative", "scale": {"domain": [10.76, 28.22], "range": [655, 0], "nice": false, "zero": false}, "axis": null}}},
{"data": {"values": [{"p": 10.76}]},
 "mark": {"type": "rule", "color": "#000000", "strokeWidth": 2},
 "encoding": {"y": {"field": "p", "type": "quantitative", "scale": {"domain": [10.76, 28.22], "range": [655, 0], "nice": false, "zero": false}, "axis": null}}},
{"data": {"values": [{"p": 11.86}]},
 "mark": {"type": "rule", "color": "#ff3030", "strokeWidth": 1.3, "strokeDash": [9, 6]},
 "encoding": {"y": {"field": "p", "type": "quantitative", "scale": {"domain": [10.76, 28.22], "range": [655, 0], "nice": false, "zero": false},
   "axis": {"orient": "left", "title": null, "tickCount": 175, "labels": false, "tickSize": -3, "domain": false}}}},
{"data": {"values": [{"p": 11.02}]},
 "mark": {"type": "rule", "color": "#000000", "strokeWidth": 1.2, "strokeDash": [9, 6]},
 "encoding": {"y": {"field": "p", "type": "quantitative", "scale": {"domain": [10.76, 28.22], "range": [655, 0], "nice": false, "zero": false}, "axis": null}}},
{"data": {"values": [{"a": 1.5, "b": 40, "p": 13.5}, {"a": 113, "b": 370.5, "p": 17.48}, {"a": 148.5, "b": 370.5, "p": 21.0}, {"a": 162, "b": 216.5, "p": 23.95}]},
 "mark": {"type": "rule", "color": "#000000", "strokeWidth": 1},
 "encoding": {
  "x": {"field": "a", "type": "quantitative", "scale": {"domain": [-0.3, 370.5], "nice": false, "zero": false}, "axis": null},
  "x2": {"field": "b"},
  "y": {"field": "p", "type": "quantitative", "scale": {"domain": [10.76, 28.22], "range": [655, 0], "nice": false, "zero": false}, "axis": null}}},
{"data": {"values": [
  {"g": "s1", "i": 30, "p": 14.15}, {"g": "s1", "i": 45, "p": 13.6},
  {"g": "s2", "i": 45.5, "p": 12.86}, {"g": "s2", "i": 104, "p": 13.78},
  {"g": "s3", "i": 113, "p": 17.48}, {"g": "s3", "i": 131.5, "p": 16.8},
  {"g": "s4", "i": 136, "p": 17.9}, {"g": "s4", "i": 172.5, "p": 23.75},
  {"g": "s5", "i": 256.5, "p": 18.92}, {"g": "s5", "i": 322.8, "p": 20.31}]},
 "mark": {"type": "line", "color": "#000000", "strokeWidth": 1},
 "encoding": {
  "x": {"field": "i", "type": "quantitative", "scale": {"domain": [-0.3, 370.5], "nice": false, "zero": false}, "axis": null},
  "y": {"field": "p", "type": "quantitative", "scale": {"domain": [10.76, 28.22], "range": [655, 0], "nice": false, "zero": false}, "axis": null},
  "detail": {"field": "g"}}},
{"data": {"values": [{"i": 0.5, "p": 11.78}, {"i": 18, "p": 13.38}]},
 "mark": {"type": "line", "color": "#000000", "strokeWidth": 1, "strokeDash": [2, 3]},
 "encoding": {
  "x": {"field": "i", "type": "quantitative", "scale": {"domain": [-0.3, 370.5], "nice": false, "zero": false}, "axis": null},
  "y": {"field": "p", "type": "quantitative", "scale": {"domain": [10.76, 28.22], "range": [655, 0], "nice": false, "zero": false}, "axis": null}}},
{"data": {"values": [{"i": 45.5, "p": 12.86}, {"i": 82.5, "p": 14.45}]},
 "mark": {"type": "line", "color": "#000000", "strokeWidth": 1, "strokeDash": [6, 4]},
 "encoding": {
  "x": {"field": "i", "type": "quantitative", "scale": {"domain": [-0.3, 370.5], "nice": false, "zero": false}, "axis": null},
  "y": {"field": "p", "type": "quantitative", "scale": {"domain": [10.76, 28.22], "range": [655, 0], "nice": false, "zero": false}, "axis": null}}},
{"data": {"values": [{"i": 5.9, "p": 10.78}, {"i": 370.5, "p": 17.84}]},
 "mark": {"type": "line", "color": "#22a040", "strokeWidth": 1.5},
 "encoding": {
  "x": {"field": "i", "type": "quantitative", "scale": {"domain": [-0.3, 370.5], "nice": false, "zero": false}, "axis": null},
  "y": {"field": "p", "type": "quantitative", "scale": {"domain": [10.76, 28.22], "range": [655, 0], "nice": false, "zero": false},
   "axis": {"orient": "right", "title": null, "tickCount": 175, "labels": false, "tickSize": 4, "domain": false}}}},
{"data": {"values": [{"i": 172.8, "p": 23.85}, {"i": 186.6, "p": 21.64}]},
 "mark": {"type": "line", "color": "#ff0000", "strokeWidth": 1, "strokeDash": [5, 3]},
 "encoding": {
  "x": {"field": "i", "type": "quantitative", "scale": {"domain": [-0.3, 370.5], "nice": false, "zero": false}, "axis": null},
  "y": {"field": "p", "type": "quantitative", "scale": {"domain": [10.76, 28.22], "range": [655, 0], "nice": false, "zero": false}, "axis": null}}},
{"data": {"values": [{"i": 187.9, "p": 21.2}, {"i": 227.5, "p": 23.41}]},
 "mark": {"type": "line", "color": "#22a040", "strokeWidth": 1},
 "encoding": {
  "x": {"field": "i", "type": "quantitative", "scale": {"domain": [-0.3, 370.5], "nice": false, "zero": false}, "axis": null},
  "y": {"field": "p", "type": "quantitative", "scale": {"domain": [10.76, 28.22], "range": [655, 0], "nice": false, "zero": false}, "axis": null}}},
{"data": {"values": [{"i": 186.6, "p": 21.03}, {"i": 265, "p": 21.42}]},
 "mark": {"type": "line", "color": "#0000ff", "strokeWidth": 1, "strokeDash": [3, 2]},
 "encoding": {
  "x": {"field": "i", "type": "quantitative", "scale": {"domain": [-0.3, 370.5], "nice": false, "zero": false}, "axis": null},
  "y": {"field": "p", "type": "quantitative", "scale": {"domain": [10.76, 28.22], "range": [655, 0], "nice": false, "zero": false}, "axis": null}}},
{"data": {"values": [{"i": 210.9, "p": 24.75}, {"i": 320.3, "p": 22.12}]},
 "mark": {"type": "line", "color": "#ff0000", "strokeWidth": 2.5},
 "encoding": {
  "x": {"field": "i", "type": "quantitative", "scale": {"domain": [-0.3, 370.5], "nice": false, "zero": false}, "axis": null},
  "y": {"field": "p", "type": "quantitative", "scale": {"domain": [10.76, 28.22], "range": [655, 0], "nice": false, "zero": false}, "axis": null}}},
{"data": {"values": [{"i": 303.5, "p": 19.97}, {"i": 370.5, "p": 26.85}]},
 "mark": {"type": "line", "color": "#1a9a1a", "strokeWidth": 2.5},
 "encoding": {
  "x": {"field": "i", "type": "quantitative", "scale": {"domain": [-0.3, 370.5], "nice": false, "zero": false}, "axis": null},
  "y": {"field": "p", "type": "quantitative", "scale": {"domain": [10.76, 28.22], "range": [655, 0], "nice": false, "zero": false}, "axis": null}}},
{"data": {"name": "px"},
 "mark": {"type": "line", "color": "#ff0000", "strokeWidth": 1},
 "encoding": {
  "x": {"field": "i", "type": "quantitative", "scale": {"domain": [-0.3, 370.5], "nice": false, "zero": false},
   "axis": {"orient": "bottom", "title": null, "values": [0,4,9,13,18,23,28,33,38,43,48,53,58,63,68,73,78,83,88,93,98,103,110,115,120,125,130,135,140,145,150,155,160,165,169,173,178,183,188,192,197,202,207,212,217,222,227,232,237,242,247,252,257,262,266,271,276,281,286,291,296,301,306,311,316,321,326,331,336,341,346,351,356,358,361,366],
    "labelExpr": "['1','7','14','21','28','4','11','18','25','2','9','16','23','30','6','13','20','27','4','11','18','27','8','15','22','29','5','12','19','26','4','11','18','25','2','8','15','22','29','6','13','20','27','3','10','17','24','1','8','15','22','29','5','12','19','26','2','9','16','23','30','7','14','21','28','4','11','18','25','2','9','16','23','30','6','13'][indexof([0,4,9,13,18,23,28,33,38,43,48,53,58,63,68,73,78,83,88,93,98,103,110,115,120,125,130,135,140,145,150,155,160,165,169,173,178,183,188,192,197,202,207,212,217,222,227,232,237,242,247,252,257,262,266,271,276,281,286,291,296,301,306,311,316,321,326,331,336,341,346,351,356,358,361,366], datum.value)]",
    "tickSize": 14, "tickOffset": -2.5, "labelAlign": "left", "labelBaseline": "top", "labelPadding": -12, "labelOffset": 2, "grid": false, "domainWidth": 1.5}},
  "y": {"field": "k", "type": "quantitative", "scale": {"domain": [4.5, 103.6], "range": [879, 657], "nice": false, "zero": false},
   "axis": {"orient": "left", "title": null, "values": [10,15,20,25,30,35,40,45,50,55,60,65,70,75,80,85,90,95,100], "tickSize": -7, "labelPadding": 16, "domainWidth": 1.5}}}},
{"data": {"values": [{"k": 90}, {"k": 15}]},
 "mark": {"type": "rule", "color": "#0000ff", "strokeWidth": 1.3},
 "encoding": {
  "y": {"field": "k", "type": "quantitative", "scale": {"domain": [4.5, 103.6], "range": [879, 657], "nice": false, "zero": false},
   "axis": {"orient": "left", "title": null, "tickCount": 100, "labels": false, "tickSize": -3, "domain": false}}}},
{"data": {"name": "px"},
 "mark": {"type": "bar", "color": "#0000ff", "size": 2},
 "encoding": {
  "x": {"field": "i", "type": "quantitative", "scale": {"domain": [-0.3, 370.5], "nice": false, "zero": false},
   "axis": {"orient": "bottom", "title": null, "offset": 14, "values": [0,22,43,65,87,106,128,149,169,190,212,232,255,276,297,320,341,359],
    "labelExpr": "['August','September','October','November','December','2024','February','March','April','May','June','July','August','September','October','November','December','2025'][indexof([0,22,43,65,87,106,128,149,169,190,212,232,255,276,297,320,341,359], datum.value)]",
    "tickSize": 10, "tickOffset": -2.5, "labelAlign": "left", "labelBaseline": "top", "labelPadding": -10, "labelOffset": 2, "grid": false, "domainWidth": 1.2}},
  "y": {"field": "v", "type": "quantitative", "scale": {"domain": [0, 33300], "range": [879, 657], "nice": false, "zero": false},
   "axis": {"orient": "right", "title": null, "values": [5000,10000,15000,20000,25000,30000], "format": "d", "tickSize": 8, "labelAlign": "right", "labelPadding": 31, "domainWidth": 1.5}}}},
{"data": {"values": [{"a": 371.3, "b": 375.9, "v1": 195, "v2": 1650}]},
 "mark": {"type": "rect", "fill": "#ffffff", "stroke": "#000000", "strokeWidth": 1},
 "encoding": {
  "x": {"field": "a", "type": "quantitative", "scale": {"domain": [-0.3, 370.5], "nice": false, "zero": false}, "axis": null},
  "x2": {"field": "b"},
  "y": {"field": "v1", "type": "quantitative", "scale": {"domain": [0, 33300], "range": [879, 657], "nice": false, "zero": false},
   "axis": {"orient": "right", "title": null, "tickCount": 33, "labels": false, "tickSize": 4, "domain": false}},
  "y2": {"field": "v2"}}},
{"data": {"values": [{"i": 373.6, "v": 920, "t": "x1000"}]},
 "mark": {"type": "text", "fontSize": 7, "color": "#3050a0", "align": "center", "baseline": "middle"},
 "encoding": {
  "x": {"field": "i", "type": "quantitative", "scale": {"domain": [-0.3, 370.5], "nice": false, "zero": false}, "axis": null},
  "y": {"field": "v", "type": "quantitative", "scale": {"domain": [0, 33300], "range": [879, 657], "nice": false, "zero": false}, "axis": null},
  "text": {"field": "t"}}},
{"data": {"values": [{"a": 60.74, "b": 135.15, "p1": 24.088, "p2": 22.355}]},
 "mark": {"type": "rect", "fill": "#c4ffff", "stroke": "#000000", "strokeWidth": 2},
 "encoding": {
  "x": {"field": "a", "type": "quantitative", "scale": {"domain": [-0.3, 370.5], "nice": false, "zero": false}, "axis": null},
  "x2": {"field": "b"},
  "y": {"field": "p1", "type": "quantitative", "scale": {"domain": [10.76, 28.22], "range": [655, 0], "nice": false, "zero": false}, "axis": null},
  "y2": {"field": "p2"}}},
{"data": {"values": [{"a": 237.66, "b": 311.3, "p1": 18.152, "p2": 16.091}]},
 "mark": {"type": "rect", "fill": "#ffff00", "stroke": "#000000", "strokeWidth": 2},
 "encoding": {
  "x": {"field": "a", "type": "quantitative", "scale": {"domain": [-0.3, 370.5], "nice": false, "zero": false}, "axis": null},
  "x2": {"field": "b"},
  "y": {"field": "p1", "type": "quantitative", "scale": {"domain": [10.76, 28.22], "range": [655, 0], "nice": false, "zero": false}, "axis": null},
  "y2": {"field": "p2"}}},
{"data": {"values": [{"a": 168.47, "b": 218.36, "p1": 27.714, "p2": 27.348}]},
 "mark": {"type": "rect", "fill": "#ffffff", "stroke": "#000000", "strokeWidth": 1.5},
 "encoding": {
  "x": {"field": "a", "type": "quantitative", "scale": {"domain": [-0.3, 370.5], "nice": false, "zero": false}, "axis": null},
  "x2": {"field": "b"},
  "y": {"field": "p1", "type": "quantitative", "scale": {"domain": [10.76, 28.22], "range": [655, 0], "nice": false, "zero": false}, "axis": null},
  "y2": {"field": "p2"}}},
{"data": {"values": [{"i": 93.39, "p": 23.91, "t": "FELICE 2025 A TUTTI"}]},
 "mark": {"type": "text", "fontSize": 13, "fontWeight": "bold", "color": "#000", "align": "center", "baseline": "middle"},
 "encoding": {
  "x": {"field": "i", "type": "quantitative", "scale": {"domain": [-0.3, 370.5], "nice": false, "zero": false}, "axis": null},
  "y": {"field": "p", "type": "quantitative", "scale": {"domain": [10.76, 28.22], "range": [655, 0], "nice": false, "zero": false}, "axis": null},
  "text": {"field": "t"}}},
{"data": {"values": [
  {"i": 61.23, "p": 23.467, "t": "Un grazie ai 524 sostenitori del sito che hanno fatto una"},
  {"i": 61.23, "p": 23.022, "t": "donazione volontaria per mantenere La Borsa dei Piccoli"},
  {"i": 61.23, "p": 22.577, "t": "gratuita per tutti anche quest'anno."}]},
 "mark": {"type": "text", "fontSize": 13, "fontWeight": "bold", "color": "#000", "align": "left", "baseline": "middle"},
 "encoding": {
  "x": {"field": "i", "type": "quantitative", "scale": {"domain": [-0.3, 370.5], "nice": false, "zero": false}, "axis": null},
  "y": {"field": "p", "type": "quantitative", "scale": {"domain": [10.76, 28.22], "range": [655, 0], "nice": false, "zero": false}, "axis": null},
  "text": {"field": "t"}}},
{"data": {"values": [
  {"i": 238.48, "p": 17.912, "t": "Small black tranquilla sui 25,97 per Leonardo."},
  {"i": 238.48, "p": 17.397, "t": "Consolidamento positivo in corso."},
  {"i": 238.48, "p": 16.883, "t": "Pericolo sotto i 25,6 prima e i 25,4 in conferma."},
  {"i": 238.48, "p": 16.368, "t": "Bene sopra i 26,3 insieme ai volumi."}]},
 "mark": {"type": "text", "fontSize": 15.4, "fontWeight": "bold", "color": "#000", "align": "left", "baseline": "middle"},
 "encoding": {
  "x": {"field": "i", "type": "quantitative", "scale": {"domain": [-0.3, 370.5], "nice": false, "zero": false}, "axis": null},
  "y": {"field": "p", "type": "quantitative", "scale": {"domain": [10.76, 28.22], "range": [655, 0], "nice": false, "zero": false}, "axis": null},
  "text": {"field": "t"}}},
{"data": {"values": [{"i": 185.1, "p": 28.0, "t": "LEONARDO FINMECC (26.0700, 26.0700, 25.7300, 25.9700, -0.09000)"}]},
 "mark": {"type": "text", "fontSize": 10, "color": "#000", "align": "center", "baseline": "middle"},
 "encoding": {
  "x": {"field": "i", "type": "quantitative", "scale": {"domain": [-0.3, 370.5], "nice": false, "zero": false}, "axis": null},
  "y": {"field": "p", "type": "quantitative", "scale": {"domain": [10.76, 28.22], "range": [655, 0], "nice": false, "zero": false}, "axis": null},
  "text": {"field": "t"}}},
{"data": {"values": [{"i": 193.4, "p": 27.53, "t": "COPYRIGHT@ LABORSADEIPICCOLI.COM"}]},
 "mark": {"type": "text", "fontSize": 11.5, "fontWeight": "bold", "color": "#000", "align": "center", "baseline": "middle"},
 "encoding": {
  "x": {"field": "i", "type": "quantitative", "scale": {"domain": [-0.3, 370.5], "nice": false, "zero": false}, "axis": null},
  "y": {"field": "p", "type": "quantitative", "scale": {"domain": [10.76, 28.22], "range": [655, 0], "nice": false, "zero": false}, "axis": null},
  "text": {"field": "t"}}},
{"data": {"values": [{"i": 173, "p": 24.25, "t": "↓"}, {"i": 221.8, "p": 22.5, "t": "←"}, {"i": 234.5, "p": 21.95, "t": "←"}]},
 "mark": {"type": "text", "fontSize": 15, "fontWeight": "bold", "color": "#ff0000", "align": "center", "baseline": "middle", "font": "DejaVu Sans"},
 "encoding": {
  "x": {"field": "i", "type": "quantitative", "scale": {"domain": [-0.3, 370.5], "nice": false, "zero": false}, "axis": null},
  "y": {"field": "p", "type": "quantitative", "scale": {"domain": [10.76, 28.22], "range": [655, 0], "nice": false, "zero": false}, "axis": null},
  "text": {"field": "t"}}},
{"data": {"values": [{"i": 191.6, "p": 22.2, "t": "→"}, {"i": 196.5, "p": 22.3, "t": "→"}]},
 "mark": {"type": "text", "fontSize": 11, "fontWeight": "bold", "color": "#1a9a1a", "align": "center", "baseline": "middle", "font": "DejaVu Sans"},
 "encoding": {
  "x": {"field": "i", "type": "quantitative", "scale": {"domain": [-0.3, 370.5], "nice": false, "zero": false}, "axis": null},
  "y": {"field": "p", "type": "quantitative", "scale": {"domain": [10.76, 28.22], "range": [655, 0], "nice": false, "zero": false}, "axis": null},
  "text": {"field": "t"}}},
{"data": {"values": [{"i": 188.6, "p": 20.72, "t": "↖"}]},
 "mark": {"type": "text", "fontSize": 14, "fontWeight": "bold", "color": "#000000", "align": "center", "baseline": "middle", "font": "DejaVu Sans"},
 "encoding": {
  "x": {"field": "i", "type": "quantitative", "scale": {"domain": [-0.3, 370.5], "nice": false, "zero": false}, "axis": null},
  "y": {"field": "p", "type": "quantitative", "scale": {"domain": [10.76, 28.22], "range": [655, 0], "nice": false, "zero": false}, "axis": null},
  "text": {"field": "t"}}}
],
"resolve": {"scale": {"y": "independent"}, "axis": {"x": "independent", "y": "independent"}}
}
